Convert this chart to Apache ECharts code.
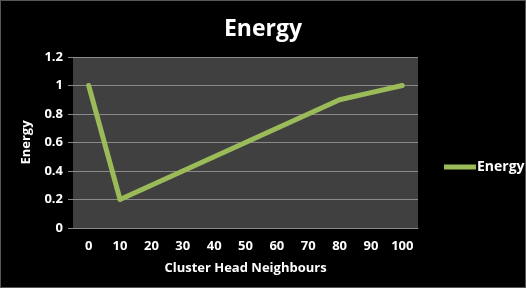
<!DOCTYPE html>
<html>
<head>
<meta charset="utf-8">
<script src="https://cdn.jsdelivr.net/npm/echarts@6/dist/echarts.min.js"></script>
<style>
  html, body { margin: 0; padding: 0; background: #000; }
  #chart { width: 524px; height: 286px; border: 1px solid #555; }
</style>
</head>
<body>
<div id="chart"></div>
<script>
// neighbours on the x axis, energy per point
var categories = ['0', '10', '20', '30', '40', '50', '60', '70', '80', '90', '100'];
var energy = [1, 0.2, 0.3, 0.4, 0.5, 0.6, 0.7, 0.8, 0.9, 0.95, 1];

var chart = echarts.init(document.getElementById('chart'));
var font = '"Open Sans", "DejaVu Sans", sans-serif';

var option = {
    backgroundColor: '#000',
    animation: false,
    title: {
        text: 'Energy',
        left: 'center',
        top: 12,
        textStyle: { color: '#fff', fontSize: 23, fontWeight: 'bold', fontFamily: font }
    },
    legend: {
        data: ['Energy'],
        orient: 'vertical',
        left: 438,
        top: 154,
        itemWidth: 32,
        itemHeight: 5,
        itemGap: 4,
        icon: 'rect',
        textStyle: { color: '#fff', fontSize: 14, fontWeight: 'bold', fontFamily: font, padding: [0, 0, 0, -4] }
    },
    grid: {
        left: 72,
        top: 56,
        width: 345,
        height: 171,
        show: true,
        backgroundColor: '#404040',
        borderWidth: 0
    },
    xAxis: {
        type: 'category',
        data: categories,
        boundaryGap: true,
        name: 'Cluster Head Neighbours',
        nameLocation: 'middle',
        nameGap: 34,
        nameTextStyle: { color: '#fff', fontSize: 13, fontWeight: 'bold', fontFamily: font },
        axisLine: { lineStyle: { color: '#888', width: 1 } },
        axisTick: { show: false },
        axisLabel: { color: '#fff', fontSize: 13, fontWeight: 'bold', fontFamily: font, margin: 12 }
    },
    yAxis: {
        type: 'value',
        min: 0,
        max: 1.2,
        interval: 0.2,
        name: 'Energy',
        nameLocation: 'middle',
        nameGap: 40,
        nameTextStyle: { color: '#fff', fontSize: 13, fontWeight: 'bold', fontFamily: font },
        axisLine: { show: false },
        axisTick: { show: true, inside: false, length: 5, lineStyle: { color: '#888' } },
        splitLine: { lineStyle: { color: '#8a8a8a', width: 1 } },
        axisLabel: {
            color: '#fff', fontSize: 13, fontWeight: 'bold', fontFamily: font, margin: 10,
            formatter: function (v) { return String(Math.round(v * 10) / 10); }
        }
    },
    series: [{
        name: 'Energy',
        type: 'line',
        data: energy,
        symbol: 'none',
        lineStyle: { color: '#9bbb59', width: 5, join: 'round', cap: 'round' },
        itemStyle: { color: '#9bbb59' }
    }]
};

chart.setOption(option);
</script>
</body>
</html>
